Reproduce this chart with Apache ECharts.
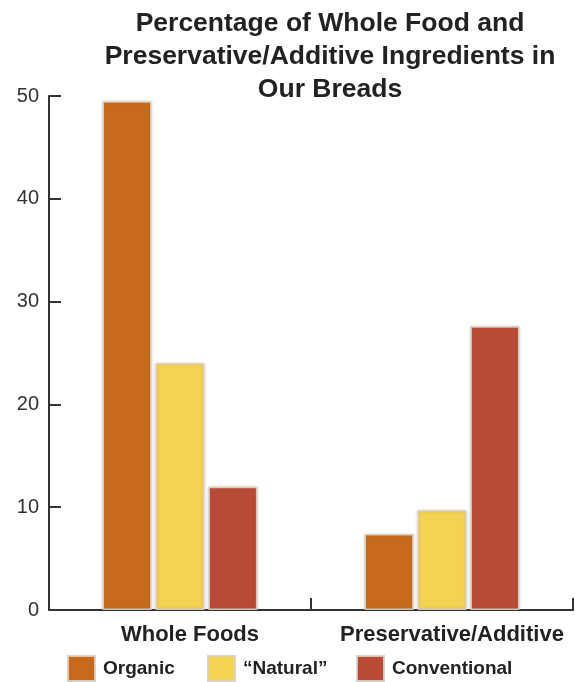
<!DOCTYPE html>
<html>
<head>
<meta charset="utf-8">
<title>Percentage of Whole Food and Preservative/Additive Ingredients in Our Breads</title>
<script src="https://cdn.jsdelivr.net/npm/echarts@6/dist/echarts.min.js"></script>
<style>
  html, body { margin: 0; padding: 0; background: #ffffff; }
  #chart { width: 575px; height: 682px; }
</style>
</head>
<body>
<div id="chart"></div>
<script>
// Bread ingredient shares by bread type
const categories = ['Whole Foods', 'Preservative/Additive'];
const seriesNames = ['Organic', '\u201CNatural\u201D', 'Conventional'];
const organic = [49.5, 7.4];
const natural = [24.0, 9.7];
const conventional = [12.0, 27.6];
const yMin = 0;
const yMax = 50;
const yStep = 10;

const FONT = '"Liberation Sans", Arial, Helvetica, sans-serif';
const colors = ['#c76a1c', '#f6d254', '#b94a35'];
const values = [organic, natural, conventional];

const chart = echarts.init(document.getElementById('chart'), null, { renderer: 'canvas' });

const series = seriesNames.map((name, i) => ({
  name: name,
  type: 'bar',
  data: values[i],
  barWidth: 49,
  barGap: '8%',
  itemStyle: {
    color: colors[i],
    borderColor: 'rgba(215, 208, 200, 0.9)',
    borderWidth: 1.5,
    shadowBlur: 3,
    shadowColor: 'rgba(120, 90, 60, 0.25)'
  },
  emphasis: { disabled: true }
}));

// one legend per entry so each swatch sits at its own spot
const legendLefts = [67, 207, 356];
const legends = seriesNames.map((name, i) => ({
  data: [name],
  left: legendLefts[i],
  top: 655,
  padding: 0,
  icon: 'rect',
  itemWidth: 27,
  itemHeight: 25,
  selectedMode: false,
  textStyle: {
    fontFamily: FONT,
    fontSize: 19,
    fontWeight: 'bold',
    color: '#222',
    padding: [2, 0, 0, 3]
  }
}));

chart.setOption({
  animation: false,
  backgroundColor: '#ffffff',
  title: {
    text: 'Percentage of Whole Food and\nPreservative/Additive Ingredients in\nOur Breads',
    left: 330,
    top: 7,
    padding: 0,
    textAlign: 'center',
    textStyle: {
      fontFamily: FONT,
      fontSize: 26.5,
      fontWeight: 'bold',
      color: '#222',
      lineHeight: 33
    }
  },
  legend: legends,
  grid: {
    left: 49,
    right: 2,
    top: 96,
    bottom: 72,
    containLabel: false
  },
  xAxis: {
    type: 'category',
    data: categories,
    boundaryGap: true,
    axisLine: { lineStyle: { color: '#333', width: 2 } },
    axisTick: { show: true, inside: true, length: 12, interval: 0, lineStyle: { color: '#333', width: 2 } },
    axisLabel: {
      interval: 0,
      hideOverlap: false,
      fontFamily: FONT,
      fontSize: 22,
      fontWeight: 'bold',
      color: '#222',
      margin: 14,
      padding: [0, 0, 0, 20]
    },
    splitLine: { show: false }
  },
  yAxis: {
    type: 'value',
    min: yMin,
    max: yMax,
    interval: yStep,
    axisLine: { show: true, lineStyle: { color: '#333', width: 2 } },
    axisTick: { show: true, inside: true, length: 12, lineStyle: { color: '#333', width: 2 } },
    axisLabel: {
      fontFamily: FONT,
      fontSize: 20,
      color: '#333',
      margin: 10,
      padding: [6, 0, 0, 0]
    },
    splitLine: { show: false }
  },
  series: series
});
</script>
</body>
</html>
